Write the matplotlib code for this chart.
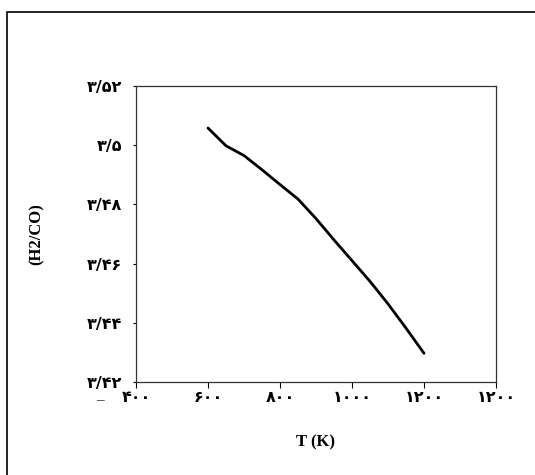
import matplotlib.pyplot as plt
from matplotlib.patches import Rectangle

# H2/CO ratio vs temperature
temp = [600, 650, 700, 750, 800, 850, 900, 950, 1000, 1050, 1100, 1150, 1200]
ratio = [3.5058, 3.4998, 3.4965, 3.4917, 3.4867, 3.4818, 3.4752, 3.4680,
         3.4610, 3.4540, 3.4464, 3.4382, 3.4297]

xticks = [400, 600, 800, 1000, 1200, 1400]
xtick_labels = ['۴۰۰', '۶۰۰', '۸۰۰', '۱۰۰۰', '۱۲۰۰', '۱۲۰۰']
yticks = [3.42, 3.44, 3.46, 3.48, 3.50, 3.52]
ytick_labels = ['۳/۴۲', '۳/۴۴', '۳/۴۶', '۳/۴۸', '۳/۵', '۳/۵۲']

fig = plt.figure(figsize=(5.35, 4.75), dpi=100)

# outer frame (runs past the right and bottom edges)
fig.patches.append(Rectangle((7 / 535, -0.1), 1.2, 1 - 12 / 475 + 0.1,
                             transform=fig.transFigure, fill=False,
                             edgecolor='black', linewidth=1.2))

ax = fig.add_axes([136 / 535, 1 - 382 / 475, 360 / 535, 296 / 475])
ax.plot(temp, ratio, color='black', linewidth=2.0, solid_capstyle='round')

ax.set_xlim(400, 1400)
ax.set_ylim(3.42, 3.52)
ax.set_xticks(xticks)
ax.set_xticklabels(xtick_labels, fontsize=11.5, fontweight='bold', family='DejaVu Sans')
ax.set_yticks(yticks)
ax.set_yticklabels(ytick_labels, fontsize=11.5, fontweight='bold', family='DejaVu Sans')
ax.tick_params(axis='x', direction='out', length=4, width=0.8, pad=2)
ax.tick_params(axis='y', direction='out', length=2, width=0.8, pad=8)

for s in ax.spines.values():
    s.set_linewidth(0.9)
    s.set_color('#333333')

ax.set_xlabel('T (K)', fontsize=12, fontweight='bold', family='Liberation Serif', labelpad=21)
ax.set_ylabel('(H2/CO)', fontsize=12, fontweight='bold', family='Liberation Serif', labelpad=30)

fig.text(100 / 535, 1 - 398 / 475, 'ـــ', fontsize=7, color='#555555',
         ha='center', va='center', family='DejaVu Sans')

fig.savefig('out.png', dpi=100)
